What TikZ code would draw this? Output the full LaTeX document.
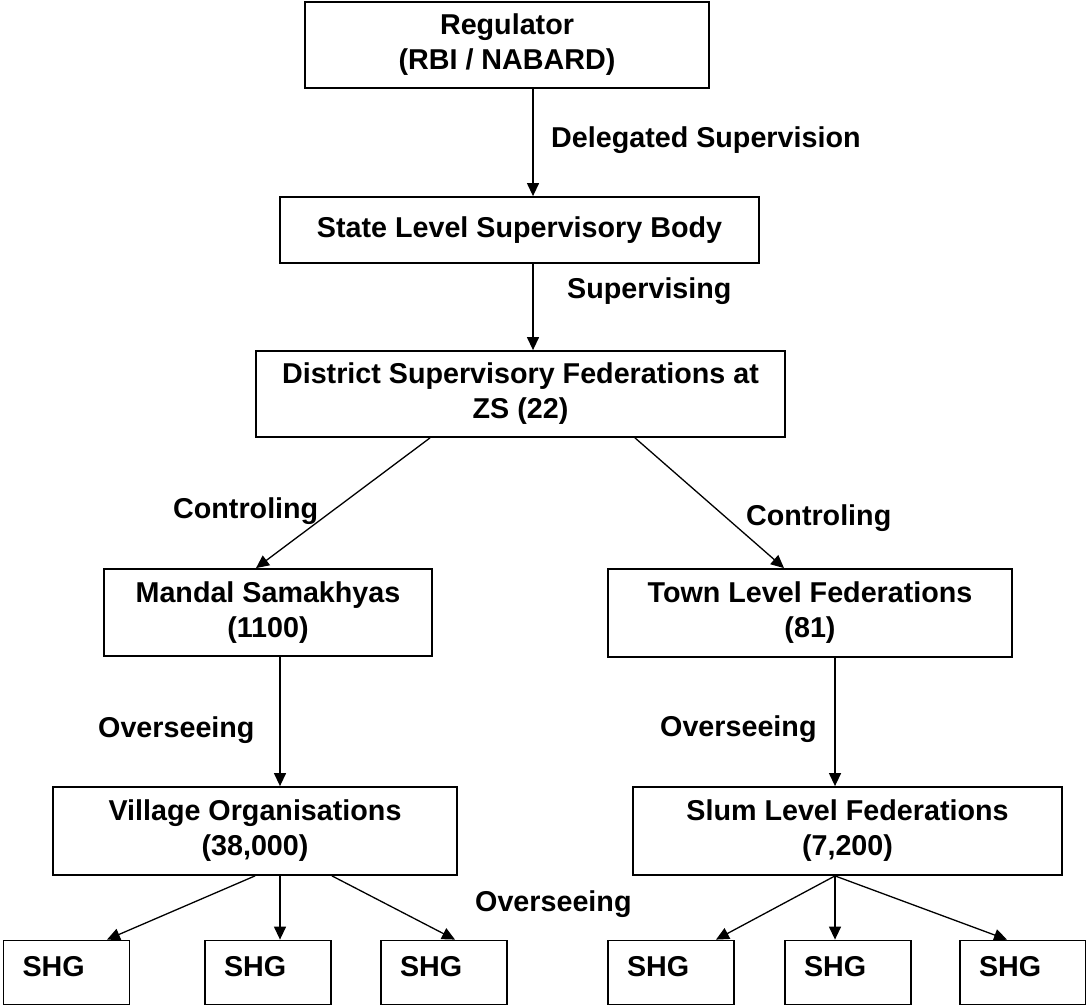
\documentclass[tikz,border=0pt]{standalone}
\usepackage{fontspec}
\setmainfont{Liberation Sans}
\usetikzlibrary{calc,arrows.meta}

\begin{document}
\begin{tikzpicture}[
    x=1pt, y=-1pt,
    font=\fontsize{28.7}{35}\selectfont\bfseries,
    box/.style={
        draw,
        line width=1.8pt,
        align=center,
        inner sep=0pt,
        },
    shg/.style={
        box,
        minimum height=64pt,
        text width=88pt,
        inner xsep=19pt,
        align=left,
        text depth=12pt,
        },
    lbl/.style={
        anchor=base west,
        inner sep=0pt,
        },
    arr/.style={
        -{Triangle[length=13pt,width=12pt]},
        line width=1.3pt,
        },
]

\useasboundingbox (0,0) rectangle (1086,1006);

\node[box, minimum width=404pt, minimum height=86pt](reg) at (507,45){Regulator\\(RBI / NABARD)};
\node[box, minimum width=479pt, minimum height=66pt](state) at (519.5,230){State Level Supervisory Body};
\node[box, minimum width=529pt, minimum height=86pt](dist) at (520.5,394){District Supervisory Federations at\\ZS (22)};
\node[box, minimum width=328pt, minimum height=87pt](mandal) at (268,612.5){Mandal Samakhyas\\(1100)};
\node[box, minimum width=404pt, minimum height=88pt](town) at (810,613){Town Level Federations\\(81)};
\node[box, minimum width=404pt, minimum height=88pt](village) at (255,831){Village Organisations\\(38,000)};
\node[box, minimum width=429pt, minimum height=88pt](slum) at (847.5,831){Slum Level Federations\\(7,200)};

\node[shg](shg1) at (66.5,972.5){SHG};
\node[shg](shg2) at (268,972.5){SHG};
\node[shg](shg3) at (444,972.5){SHG};
\node[shg](shg4) at (671,972.5){SHG};
\node[shg](shg5) at (848,972.5){SHG};
\node[shg](shg6) at (1023,972.5){SHG};

\draw[arr] ($(reg.south)+(26,0)$) -- ($(state.north)+(13.5,0)$);
\draw[arr] ($(state.south)+(13.5,0)$) -- ($(dist.north)+(12.5,0)$);
\draw[arr] ($(dist.south)+(-90.5,0)$) -- ($(mandal.north)+(-12,0)$);
\draw[arr] ($(dist.south)+(114.5,0)$) -- ($(town.north)+(-26,0)$);
\draw[arr] ($(mandal.south)+(12,0)$) -- ($(village.north)+(25,0)$);
\draw[arr] ($(town.south)+(25,0)$) -- ($(slum.north)+(-12.5,0)$);

\draw[arr] (village.south) -- ($(shg1.north)+(40.5,0)$);
\draw[arr] ($(village.south)+(25,0)$) -- ($(shg2.north)+(12,0)$);
\draw[arr] ($(village.south)+(77,0)$) -- ($(shg3.north)+(11,0)$);
\draw[arr] ($(slum.south)+(-12.5,0)$) -- ($(shg4.north)+(45,0)$);
\draw[arr] ($(slum.south)+(-12.5,0)$) -- ($(shg5.north)+(-13,0)$);
\draw[arr] ($(slum.south)+(-12.5,0)$) -- ($(shg6.north)+(-16,0)$);

\node[lbl](deleg) at (551,147){Delegated Supervision};
\node[lbl](superv) at (567,298){Supervising};
\node[lbl](ctrlL) at (173,518){Controling};
\node[lbl](ctrlR) at (746,525){Controling};
\node[lbl](overL) at (98,737){Overseeing};
\node[lbl](overR) at (660,736){Overseeing};
\node[lbl](overB) at (475,911){Overseeing};

\end{tikzpicture}
\end{document}
